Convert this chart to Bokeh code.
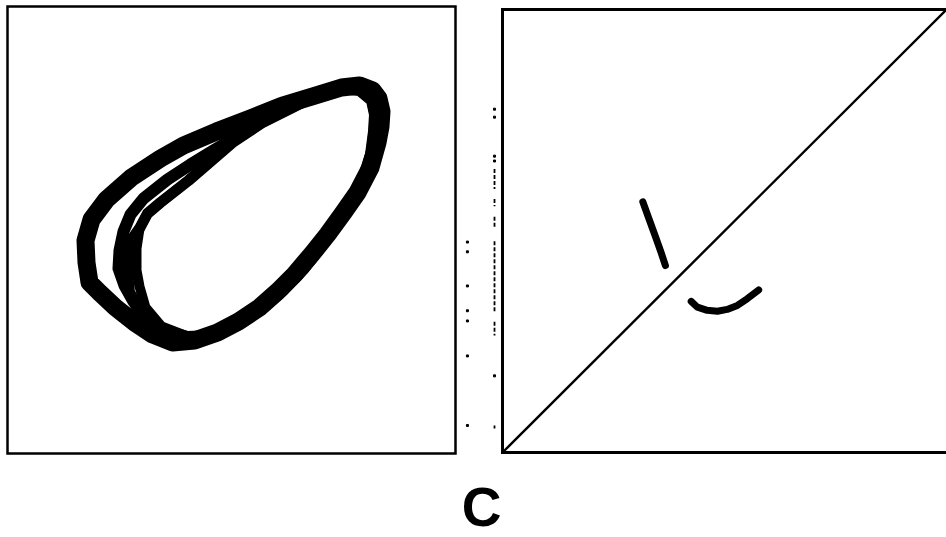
from bokeh.plotting import figure
from bokeh.layouts import row
from bokeh.models import Range1d
from bokeh.core.properties import value
from bokeh.embed import file_html
from bokeh.resources import INLINE

# ---- Phase portrait: several passes of the trajectory (arbitrary state units) ----
orbit_a_x = [82, 79, 78, 84, 99, 124, 153, 176, 209, 243, 275, 308, 334, 352, 365, 371, 374, 373,
             370, 363, 350, 336, 320, 304, 287, 270, 252, 231, 210, 187, 165, 145, 127, 108, 92, 82]
orbit_a_y = [171, 191, 213, 234, 254, 276, 295, 308, 322, 335, 348, 358, 366, 368, 363, 355, 342, 327,
             311, 286, 261, 241, 219, 199, 179, 162, 146, 132, 121, 113, 111, 119, 131, 146, 161, 171]

orbit_b_x = [111, 112, 116, 123, 136, 160, 183, 206, 233, 258, 275, 308, 334, 352, 365, 371, 374, 373,
             370, 363, 350, 336, 320, 304, 287, 270, 252, 231, 210, 187, 165, 148, 136, 126, 117, 111]
orbit_b_y = [185, 203, 222, 239, 255, 274, 289, 303, 319, 334, 348, 358, 366, 368, 363, 355, 342, 327,
             311, 286, 261, 241, 219, 199, 179, 162, 146, 132, 121, 113, 113, 123, 137, 152, 168, 185]

orbit_c_x = [129, 129, 132, 140, 153, 181, 203, 225, 255, 289, 312, 333, 352, 364, 367, 366, 363,
             355, 344, 330, 314, 297, 276, 254, 230, 204, 180, 154, 138, 132, 129]
orbit_c_y = [183, 205, 225, 240, 251, 273, 292, 311, 331, 348, 360, 365, 363, 353, 339, 322, 299,
             274, 250, 230, 207, 185, 163, 144, 128, 118, 117, 127, 146, 167, 183]

orbit_d_x = [122, 120, 121, 125, 132, 140, 153, 181, 203, 225, 255, 289, 312, 333, 352, 364, 367,
             366, 363, 355, 344, 330, 314, 297, 276, 254, 230, 204, 180, 158, 141, 130, 122]
orbit_d_y = [161, 181, 201, 215, 225, 240, 251, 273, 292, 311, 331, 348, 360, 365, 363, 353, 339,
             322, 299, 274, 250, 230, 207, 185, 163, 144, 128, 118, 117, 123, 135, 148, 161]

# extent of the phase-plane box
box_x = [0, 448]
box_y = [0, 447]

# ---- Return map (next maximum vs. current maximum, normalised) ----
branch_left_x = [0.316, 0.330, 0.345, 0.357, 0.367]
branch_left_y = [0.566, 0.527, 0.486, 0.452, 0.422]
branch_right_x = [0.425, 0.439, 0.461, 0.484, 0.506, 0.529, 0.551, 0.577]
branch_right_y = [0.341, 0.328, 0.321, 0.319, 0.323, 0.332, 0.347, 0.367]
identity_line = [0.0, 1.0]

# faint tick marks between the panels
tick_col_x = -0.018
tick_dash_y0 = [0.640, 0.572, 0.532, 0.477, 0.295, 0.061]
tick_dash_y1 = [0.595, 0.556, 0.505, 0.318, 0.264, 0.054]
tick_dot_y = [0.775, 0.757, 0.669, 0.658, 0.173]
speck_col_x = -0.079
speck_y = [0.475, 0.453, 0.376, 0.320, 0.297, 0.218, 0.061]

panel_label = "C"

INK = "#000000"


def bare(p):
    p.outline_line_color = None
    p.grid.visible = False
    p.background_fill_color = "white"
    p.border_fill_color = "white"
    return p


# ---- left panel: attractor ----
p1 = bare(figure(width=462, height=537, title=None,
                 x_range=Range1d(-7, 455), y_range=Range1d(-84, 453),
                 x_axis_type=None, y_axis_type=None, toolbar_location=None,
                 output_backend="svg", min_border=0))
p1.quad(left=[box_x[0]], right=[box_x[1]], bottom=[box_y[0]], top=[box_y[1]],
        fill_color=None, line_color=INK, line_width=2.5, line_join="miter")

for xs, ys, w in [(orbit_a_x, orbit_a_y, 18), (orbit_b_x, orbit_b_y, 12),
                  (orbit_c_x, orbit_c_y, 10), (orbit_d_x, orbit_d_y, 11)]:
    p1.line(xs, ys, line_color=INK, line_width=w, line_join="round", line_cap="round")

# ---- right panel: return map ----
p2 = bare(figure(width=484, height=537, title=None,
                 x_range=Range1d(-40 / 444, 1.0), y_range=Range1d(-85 / 443, 452 / 443),
                 x_axis_type=None, y_axis_type=None, toolbar_location=None,
                 output_backend="svg", min_border=0))

# open box: top, left and bottom edges of the map
p2.line([1.0, 0.0, 0.0, 1.0], [1.0, 1.0, 0.0, 0.0], line_color=INK, line_width=3,
        line_join="miter")
p2.line(identity_line, identity_line, line_color=INK, line_width=2.4)
p2.line(branch_left_x, branch_left_y, line_color=INK, line_width=7, line_cap="round",
        line_join="round")
p2.line(branch_right_x, branch_right_y, line_color=INK, line_width=7, line_cap="round",
        line_join="round")

p2.segment(x0=[tick_col_x] * len(tick_dash_y0), y0=tick_dash_y0,
           x1=[tick_col_x] * len(tick_dash_y1), y1=tick_dash_y1,
           line_color=INK, line_width=1.8, line_dash="4 2")
p2.scatter([tick_col_x] * len(tick_dot_y), tick_dot_y, marker="square", size=2,
           color=INK)
p2.scatter([speck_col_x] * len(speck_y), speck_y, marker="square", size=2, color=INK)

# panel letter, centred under the gap between the two boxes
p2.text(x=[-0.047], y=[-0.124], text=[panel_label], text_font=value("Liberation Sans"),
        text_font_style="bold", text_font_size="55px", text_align="center",
        text_baseline="alphabetic", text_color=INK)

layout = row(p1, p2)

open("out.html", "w").write(file_html(layout, INLINE))
